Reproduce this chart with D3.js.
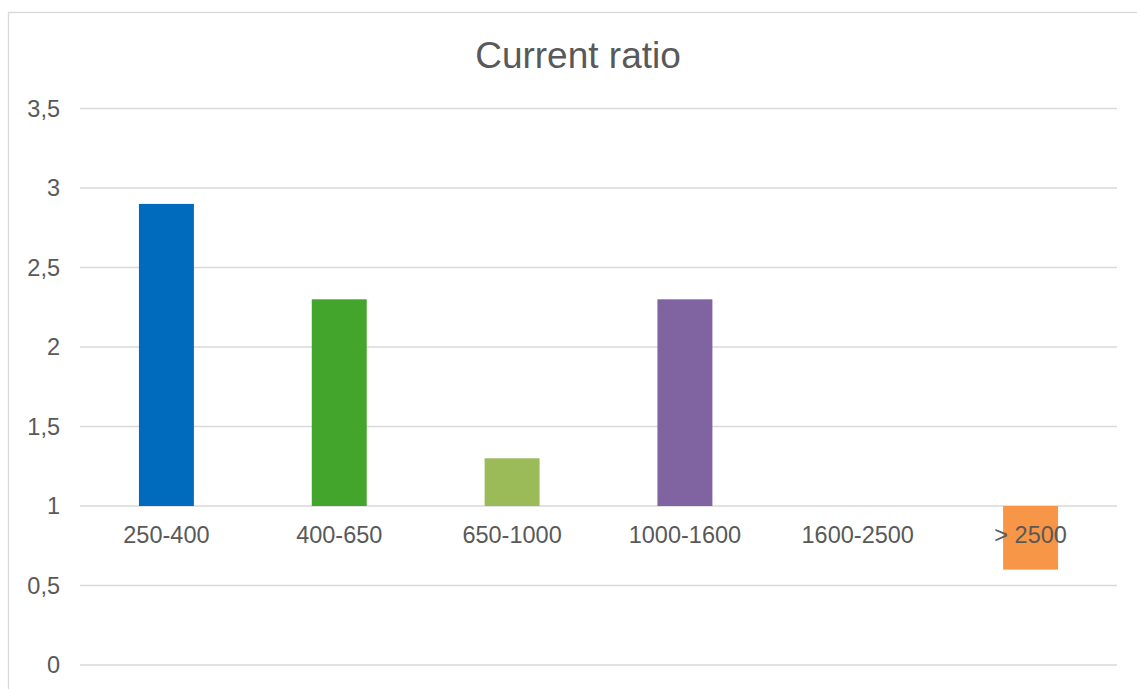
<!DOCTYPE html>
<html>
<head>
<meta charset="utf-8">
<script src="https://cdn.jsdelivr.net/npm/d3@7"></script>
<style>
  html, body { margin: 0; padding: 0; background: #fff; }
  svg { display: block; font-family: "Liberation Sans", Arial, sans-serif; }
</style>
</head>
<body>
<svg id="chart" width="1137" height="689"></svg>
<script>
// Current ratio by size class; bars hang from the 1.0 crossing line
const categories = ["250-400", "400-650", "650-1000", "1000-1600", "1600-2500", "> 2500"];
const values = [2.9, 2.3, 1.3, 2.3, null, 0.6];
const barColors = ["#006ABD", "#43A52C", "#9BBB59", "#8064A2", "#F79646", "#F79646"];
const yTicks = [0, 0.5, 1, 1.5, 2, 2.5, 3, 3.5];
const baseValue = 1;
const titleText = "Current ratio";

const svg = d3.select("#chart");
const W = 1137, H = 689;
const plot = { left: 80, right: 1117, top: 108.5, bottom: 665 };

const locale = d3.formatLocale({ decimal: ",", thousands: ".", grouping: [3], currency: ["", ""] });
const fmt = locale.format("~g");

const x = d3.scaleBand()
  .domain(categories)
  .range([plot.left, plot.right])
  .paddingInner(0.682)
  .paddingOuter(0.341);

const y = d3.scaleLinear()
  .domain([0, 3.5])
  .range([plot.bottom, plot.top]);

// chart frame
svg.append("rect")
  .attr("x", 8.5).attr("y", 12.5)
  .attr("width", W + 10).attr("height", H + 10)
  .attr("fill", "#fff")
  .attr("stroke", "#D9D9D9")
  .attr("stroke-width", 1.3);

// title
svg.append("text")
  .attr("x", 578).attr("y", 68)
  .attr("text-anchor", "middle")
  .attr("fill", "#595959")
  .style("font-size", "37px")
  .text(titleText);

// gridlines
svg.append("g").selectAll("line")
  .data(yTicks)
  .join("line")
  .attr("x1", plot.left).attr("x2", plot.right)
  .attr("y1", d => y(d)).attr("y2", d => y(d))
  .attr("stroke", "#D9D9D9")
  .attr("stroke-width", 1.3);

// y tick labels
svg.append("g").selectAll("text")
  .data(yTicks)
  .join("text")
  .attr("x", 60)
  .attr("y", d => y(d))
  .attr("dy", "0.36em")
  .attr("text-anchor", "end")
  .attr("fill", "#595959")
  .style("font-size", "23.5px")
  .text(d => fmt(d));

// bars, drawn from the crossing value
svg.append("g").selectAll("rect")
  .data(categories.map((c, i) => ({ c, v: values[i], color: barColors[i] })).filter(d => d.v != null))
  .join("rect")
  .attr("x", d => x(d.c))
  .attr("width", x.bandwidth())
  .attr("y", d => y(Math.max(d.v, baseValue)))
  .attr("height", d => Math.abs(y(d.v) - y(baseValue)))
  .attr("fill", d => d.color);

// category labels below the crossing line
svg.append("g").selectAll("text")
  .data(categories)
  .join("text")
  .attr("x", d => x(d) + x.bandwidth() / 2)
  .attr("y", 543)
  .attr("text-anchor", "middle")
  .attr("fill", "#595959")
  .style("font-size", "23.5px")
  .text(d => d);
</script>
</body>
</html>
